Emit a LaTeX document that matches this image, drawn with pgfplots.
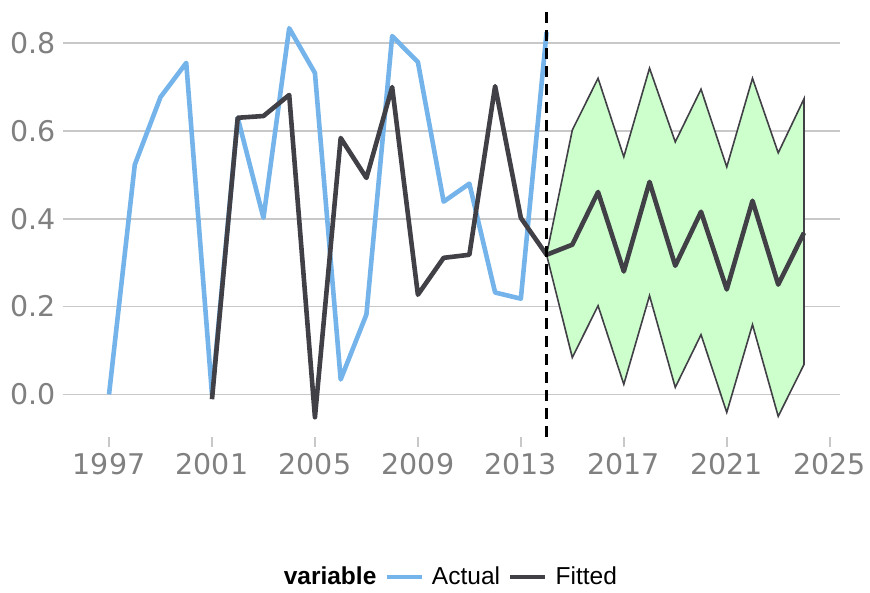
\documentclass[border=0pt]{standalone}
\usepackage{fontspec}
\setmainfont{DejaVu Sans}
\newfontfamily\legfont{Liberation Sans}
\usepackage{pgfplots}
\pgfplotsset{compat=1.18}

\definecolor{actualblue}{RGB}{116,180,234}
\definecolor{fitgray}{RGB}{64,64,70}
\definecolor{bandgreen}{RGB}{204,255,204}
\definecolor{gridgray}{RGB}{200,200,200}
\definecolor{ticktext}{RGB}{128,128,128}

\begin{document}
\begin{tikzpicture}
\useasboundingbox (0,0) rectangle (870pt,592pt);
\begin{axis}[
  at={(73pt,155pt)}, anchor=south west,
  scale only axis, width=767pt, height=429pt,
  xmin=1995.6, xmax=2025.4,
  ymin=-0.097, ymax=0.88,
  axis line style={draw=none},
  xtick={1997,2001,...,2025},
  ytick={0,0.2,0.4,0.6,0.8},
  tick pos=left,
  tick align=outside,
  major tick length=10pt,
  tick style={draw=gridgray, line width=1.6pt},
  ymajorgrids,
  grid style={draw=gridgray, line width=1.8pt},
  /pgf/number format/assume math mode=true,
  xticklabel style={/pgf/number format/1000 sep={}, yshift=-3pt},
  yticklabel style={/pgf/number format/fixed, /pgf/number format/fixed zerofill,
    /pgf/number format/precision=1, xshift=-4pt},
  ticklabel style={font=\fontsize{28.5}{32}\selectfont, text=ticktext},
  legend columns=3,
  legend style={at={(0.492,-0.326)}, anchor=center, draw=none, fill=none,
    font=\legfont\fontsize{24.5}{28}\selectfont,
    nodes={inner xsep=8pt},
    /tikz/every even column/.append style={column sep=0pt}},
  legend cell align=left,
  legend image code/.code={\draw[#1, line width=4.6pt] (0pt,0pt) -- (35pt,0pt);},
]
% forecast band (upper bound forward, lower bound back)
\addplot[fill=bandgreen, draw=fitgray, line width=1.6pt, forget plot] coordinates {
  (2014,0.318) (2015,0.602) (2016,0.720) (2017,0.541) (2018,0.743) (2019,0.575)
  (2020,0.695) (2021,0.518) (2022,0.720) (2023,0.550) (2024,0.673)
  (2024,0.068) (2023,-0.050) (2022,0.159) (2021,-0.041) (2020,0.136)
  (2019,0.016) (2018,0.225) (2017,0.023) (2016,0.202) (2015,0.084) (2014,0.318)
} -- cycle;

\addlegendimage{empty legend}
\addlegendentry{\textbf{variable}\hspace{5pt}}

% observed series
\addplot[actualblue, line width=4.6pt, line join=round] coordinates {
  (1997,0.000) (1998,0.523) (1999,0.677) (2000,0.755) (2001,0.000)
  (2002,0.630) (2003,0.402) (2004,0.834) (2005,0.732) (2006,0.034)
  (2007,0.182) (2008,0.816) (2009,0.757) (2010,0.439) (2011,0.480)
  (2012,0.232) (2013,0.218) (2014,0.825)
};
\addlegendentry{Actual}

% fitted values and point forecast
\addplot[fitgray, line width=4.6pt, line join=round] coordinates {
  (2001,-0.011) (2002,0.630) (2003,0.634) (2004,0.682) (2005,-0.052)
  (2006,0.584) (2007,0.493) (2008,0.700) (2009,0.227) (2010,0.311)
  (2011,0.318) (2012,0.702) (2013,0.402) (2014,0.318)
  (2015,0.341) (2016,0.461) (2017,0.280) (2018,0.484) (2019,0.293)
  (2020,0.416) (2021,0.239) (2022,0.441) (2023,0.250) (2024,0.368)
};
\addlegendentry{Fitted}

% start of forecast horizon
\addplot[black, line width=3pt, dash pattern=on 11pt off 7pt, forget plot]
  coordinates {(2014,-0.097) (2014,0.88)};
\end{axis}
\end{tikzpicture}
\end{document}
